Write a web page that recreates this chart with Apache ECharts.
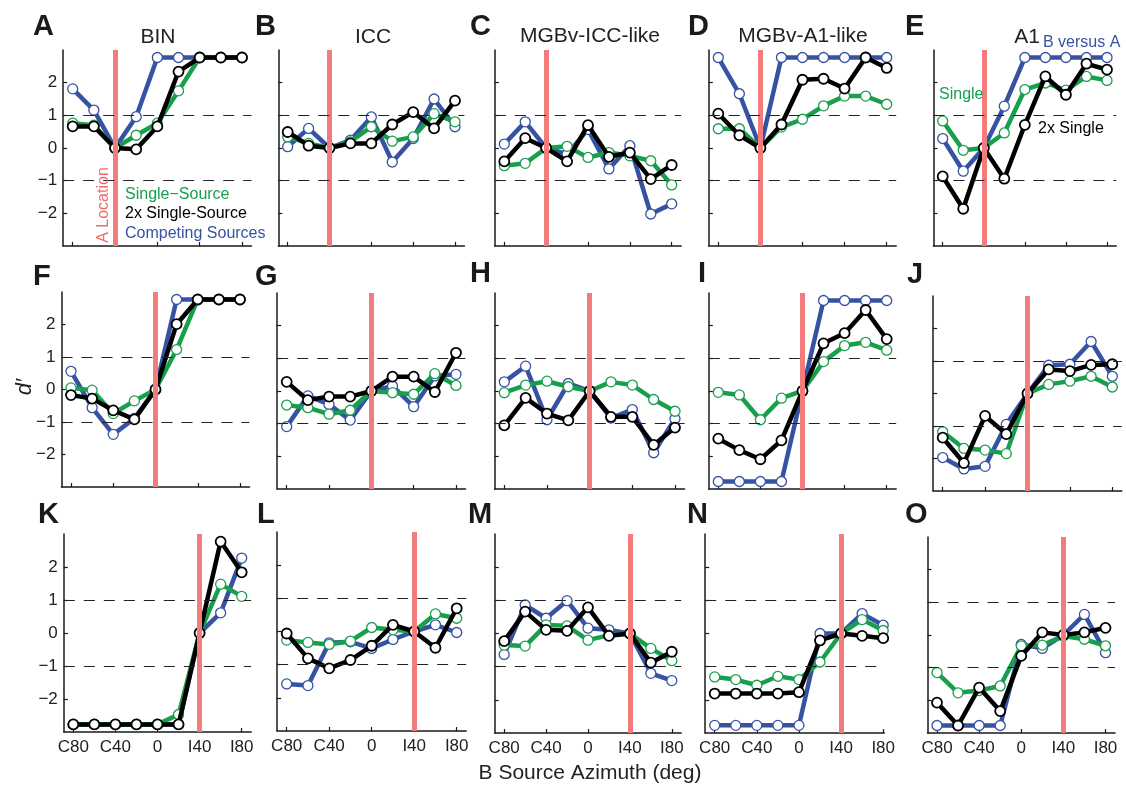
<!DOCTYPE html>
<html><head><meta charset="utf-8">
<script src="https://cdn.jsdelivr.net/npm/echarts@6/dist/echarts.min.js"></script>
<style>html,body{margin:0;padding:0;background:#fff}#c{width:1126px;height:788px}</style>
</head><body><div id="c"></div>
<script>
// ---------- data ----------
const azimuths = [-80, -60, -40, -20, 0, 20, 40, 60, 80];
const tickValues = [-80, -40, 0, 40, 80];
const tickLabels = ['C80', 'C40', '0', 'I40', 'I80'];
const yTickValues = [-2, -1, 0, 1, 2];
const yTickLabels = ['\u22122', '\u22121', '0', '1', '2'];
const panelLetters = ['A','B','C','D','E','F','G','H','I','J','K','L','M','N','O'];
const columnTitles = ['BIN', 'ICC', 'MGBv-ICC-like', 'MGBv-A1-like', 'A1'];
const aLocationByRow = [-40, 0, 40];
const criterionLevels = [1, -1];

// Single-Source (green), 2x Single-Source (black), Competing Sources (blue)
const A_single  = [0.76, 0.70, 0, 0.39, 0.76, 1.75, 2.77, 2.77, 2.77];
const A_double  = [0.66, 0.66, 0, -0.04, 0.66, 2.34, 2.77, 2.77, 2.77];
const A_compete = [1.81, 1.16, 0, 0.96, 2.77, 2.77, 2.77, 2.77, 2.77];

const B_single  = [0.34, 0.14, 0, 0.19, 0.65, 0.21, 0.34, 1.05, 0.80];
const B_double  = [0.49, 0.07, 0, 0.14, 0.14, 0.72, 1.10, 0.60, 1.45];
const B_compete = [0.04, 0.60, 0, 0.24, 0.95, -0.43, 0.29, 1.50, 0.65];

const C_single  = [-0.54, -0.47, 0, 0.05, -0.29, -0.14, -0.24, -0.39, -1.13];
const C_double  = [-0.41, 0.30, 0, -0.41, 0.70, -0.27, -0.14, -0.95, -0.52];
const C_compete = [0.12, 0.80, 0, -0.19, 0.57, -0.64, 0.07, -2.02, -1.71];

const D_single  = [0.59, 0.59, 0, 0.64, 0.88, 1.29, 1.59, 1.59, 1.34];
const D_double  = [1.05, 0.39, 0, 0.72, 2.09, 2.12, 1.82, 2.77, 2.45];
const D_compete = [2.77, 1.66, 0, 2.77, 2.77, 2.77, 2.77, 2.77, 2.77];

const E_single  = [0.83, -0.07, 0, 0.46, 1.79, 1.99, 1.77, 2.19, 2.07];
const E_double  = [-0.87, -1.86, 0, -0.94, 0.71, 2.19, 1.63, 2.58, 2.40];
const E_compete = [0.29, -0.71, 0, 1.28, 2.77, 2.77, 2.77, 2.77, 2.77];

const F_single  = [0.05, -0.02, -0.74, -0.35, 0, 1.23, 2.77, 2.77, 2.77];
const F_double  = [-0.17, -0.28, -0.64, -0.92, 0, 2.01, 2.77, 2.77, 2.77];
const F_compete = [0.56, -0.56, -1.38, -0.89, 0, 2.77, 2.77, 2.77, 2.77];

const G_single  = [-0.43, -0.51, -0.71, -0.59, 0, -0.05, -0.10, 0.53, 0.17];
const G_double  = [0.28, -0.28, -0.17, -0.17, 0, 0.44, 0.44, -0.03, 1.17];
const G_compete = [-1.09, -0.15, -0.41, -0.89, 0, 0.15, -0.48, 0.46, 0.51];

const H_single  = [-0.05, 0.18, 0.30, 0.13, 0, 0.28, 0.18, -0.26, -0.62];
const H_double  = [-1.05, -0.21, -0.69, -0.90, 0, -0.79, -0.79, -1.65, -1.12];
const H_compete = [0.28, 0.76, -0.88, 0.23, 0, -0.83, -0.57, -1.89, -0.85];

const I_single  = [-0.04, -0.12, -0.88, -0.22, 0, 0.90, 1.39, 1.49, 1.25];
const I_double  = [-1.46, -1.81, -2.09, -1.51, 0, 1.46, 1.77, 2.48, 1.59];
const I_compete = [-2.77, -2.77, -2.77, -2.77, 0, 2.77, 2.77, 2.77, 2.77];

const J_single  = [-1.18, -1.69, -1.74, -1.85, 0, 0.28, 0.38, 0.53, 0.20];
const J_double  = [-1.36, -2.14, -0.69, -1.25, 0, 0.74, 0.69, 0.88, 0.90];
const J_compete = [-1.97, -2.32, -2.24, -0.95, 0, 0.87, 0.90, 1.60, 0.53];

const K_single  = [-2.77, -2.77, -2.77, -2.77, -2.77, -2.47, 0, 1.48, 1.11];
const K_double  = [-2.77, -2.77, -2.77, -2.77, -2.77, -2.77, 0, 2.77, 1.84];
const K_compete = [-2.77, -2.77, -2.77, -2.77, -2.77, -2.77, 0, 0.61, 2.27];

const L_single  = [-0.26, -0.33, -0.39, -0.29, 0.12, 0.05, 0, 0.53, 0.40];
const L_double  = [-0.06, -0.81, -1.11, -0.86, -0.43, 0.20, 0, -0.49, 0.70];
const L_compete = [-1.58, -1.63, -0.34, -0.31, -0.51, -0.24, 0, 0.20, -0.03];

const M_single  = [-0.35, -0.38, 0.26, 0.23, -0.20, -0.05, 0, -0.45, -0.82];
const M_double  = [-0.23, 0.66, 0.11, 0.08, 0.79, -0.07, 0, -0.88, -0.55];
const M_compete = [-0.63, 0.86, 0.46, 0.99, 0.16, 0.11, 0, -1.20, -1.42];

const N_single  = [-1.31, -1.39, -1.56, -1.29, -1.39, -0.86, 0, 0.42, 0.09];
const N_double  = [-1.81, -1.81, -1.81, -1.81, -1.77, -0.21, 0, -0.07, -0.14];
const N_compete = [-2.77, -2.77, -2.77, -2.77, -2.77, 0, 0, 0.60, 0.25];

const O_single  = [-1.15, -1.77, -1.70, -1.56, -0.33, -0.31, -0.03, -0.13, -0.33];
const O_double  = [-2.07, -2.77, -1.61, -2.33, -0.64, 0.08, 0, 0.08, 0.22];
const O_compete = [-2.77, -2.77, -2.77, -2.77, -0.29, -0.41, 0, 0.63, -0.54];

const singleData  = [A_single, B_single, C_single, D_single, E_single, F_single, G_single, H_single, I_single, J_single, K_single, L_single, M_single, N_single, O_single];
const doubleData  = [A_double, B_double, C_double, D_double, E_double, F_double, G_double, H_double, I_double, J_double, K_double, L_double, M_double, N_double, O_double];
const competeData = [A_compete, B_compete, C_compete, D_compete, E_compete, F_compete, G_compete, H_compete, I_compete, J_compete, K_compete, L_compete, M_compete, N_compete, O_compete];

// ---------- layout (pixel positions of C80 / I80 ticks, plot top & height) ----------
const layout = [
  {c80: 72.7, i80: 242,   top: 50,  h: 196},
  {c80: 287.7, i80: 455,  top: 50,  h: 196},
  {c80: 504.3, i80: 671.7, top: 50, h: 196},
  {c80: 718.3, i80: 886.7, top: 50, h: 196},
  {c80: 942.7, i80: 1107, top: 50,  h: 196},
  {c80: 71,   i80: 240,   top: 292, h: 195},
  {c80: 286.7, i80: 456,  top: 293, h: 196},
  {c80: 504.3, i80: 675,  top: 293, h: 196},
  {c80: 718.3, i80: 886.7, top: 293, h: 196},
  {c80: 942.7, i80: 1112.3, top: 296, h: 195},
  {c80: 73.3, i80: 241.7, top: 534, h: 198},
  {c80: 286.7, i80: 456.7, top: 532, h: 199},
  {c80: 504.2, i80: 671.8, top: 534, h: 199},
  {c80: 714.7, i80: 883.2, top: 534, h: 199, xmax: 81},
  {c80: 937,  i80: 1105.5, top: 537, h: 196}
];

const FONT = '"Liberation Sans", Arial, Helvetica, sans-serif';
const BLUE = '#3652a3', GREEN = '#189f4c', BLACK = '#000000', RED = '#f27c7c', AXIS = '#1a1a1a';
const XMIN = -89, XMAX = 89;

const grids = [], xAxes = [], yAxes = [], series = [];
layout.forEach((L, i) => {
  const row = Math.floor(i / 5), col = i % 5;
  const xmax = L.xmax != null ? L.xmax : XMAX;
  const k = (L.i80 - L.c80) / 160;
  grids.push({left: L.c80 - (-80 - XMIN) * k, top: L.top, width: (xmax - XMIN) * k, height: L.h});
  xAxes.push({
    gridIndex: i, type: 'value', min: XMIN, max: xmax,
    axisLine: {show: true, onZero: false, lineStyle: {color: AXIS, width: 1.5}},
    axisTick: {show: true, inside: true, length: 4, customValues: tickValues, lineStyle: {color: AXIS, width: 1.2}},
    axisLabel: {show: row === 2, customValues: tickValues, margin: 7, fontSize: 17, color: '#222', fontFamily: FONT,
      formatter: v => tickLabels[tickValues.indexOf(v)]},
    splitLine: {show: false}
  });
  yAxes.push({
    gridIndex: i, type: 'value', min: -3, max: 3,
    axisLine: {show: true, onZero: false, lineStyle: {color: AXIS, width: 1.5}},
    axisTick: {show: true, inside: true, length: 4, customValues: yTickValues, lineStyle: {color: AXIS, width: 1.2}},
    axisLabel: {show: col === 0, customValues: yTickValues, margin: 6, fontSize: 17, color: '#222', fontFamily: FONT,
      formatter: v => yTickLabels[yTickValues.indexOf(v)]},
    splitLine: {show: false}
  });
  // reference lines: A location and +/-1 criterion
  series.push({
    type: 'line', xAxisIndex: i, yAxisIndex: i, data: [], z: 1, silent: true, animation: false,
    markLine: {
      silent: true, animation: false, symbol: ['none', 'none'], label: {show: false},
      emphasis: {disabled: true},
      data: [{xAxis: aLocationByRow[row], lineStyle: {color: RED, width: 5, type: 'solid'}}]
        .concat(criterionLevels.map(v => ({yAxis: v, lineStyle: {color: '#222', width: 1.2, type: [11, 9]}})))
    }
  });
  const mk = (arr, color, z, bw) => ({
    type: 'line', xAxisIndex: i, yAxisIndex: i, z: z, silent: true, animation: false,
    data: azimuths.map((a, j) => [a, arr[j]]),
    symbol: 'circle', symbolSize: 10, showSymbol: true, clip: false,
    lineStyle: {color: color, width: 4.5},
    itemStyle: {color: '#ffffff', borderColor: color, borderWidth: bw},
    emphasis: {disabled: true}
  });
  series.push(mk(competeData[i], BLUE, 2, 1.3));
  series.push(mk(singleData[i], GREEN, 3, 1.3));
  series.push(mk(doubleData[i], BLACK, 4, 1.8));
});

// ---------- text ----------
const letterPos = [[33,27],[255,27],[470,27],[688,27],[905,27],[33,277],[255,277],[470,274],[698,274],[907,275],[38,515],[257,515],[468,515],[687,515],[905,515]];
const titlePos = [[158,37],[373,37],[590,36],[803,36],[1027,37]];
const txt = (text, x, y, opt) => ({
  type: 'text', x: x, y: y, rotation: opt.rotation || 0, silent: true, z: 100,
  style: Object.assign({text: text, fontFamily: FONT, fontSize: 16, fill: '#111',
    align: 'left', textAlign: 'left', verticalAlign: 'middle', textVerticalAlign: 'middle'}, opt.style || {})
});
const graphics = [];
panelLetters.forEach((p, i) => graphics.push(txt(p, letterPos[i][0], letterPos[i][1], {style: {fontSize: 29, fontWeight: 'bold', fill: '#1a1a1a'}})));
columnTitles.forEach((t, i) => graphics.push(txt(t, titlePos[i][0], titlePos[i][1], {style: {fontSize: 21, fill: '#222', align: 'center', textAlign: 'center'}})));
graphics.push(txt('Single\u2212Source', 125, 195, {style: {fill: GREEN}}));
graphics.push(txt('2x Single-Source', 125, 214, {style: {fill: '#000'}}));
graphics.push(txt('Competing Sources', 125, 234, {style: {fill: BLUE}}));
graphics.push(txt('A Location', 104, 205, {rotation: Math.PI / 2, style: {fill: '#f26a6a', align: 'center', textAlign: 'center'}}));
graphics.push(txt('Single', 939, 95, {style: {fill: GREEN}}));
graphics.push(txt('2x Single', 1038, 129, {style: {fill: '#000'}}));
graphics.push(txt('B versus A', 1043, 43, {style: {fill: BLUE}}));
graphics.push(txt('d\u2032', 25, 387, {rotation: Math.PI / 2, style: {fontSize: 22, fontStyle: 'italic', fill: '#222', align: 'center', textAlign: 'center'}}));
graphics.push(txt('B Source Azimuth (deg)', 590, 773, {style: {fontSize: 21, fill: '#222', align: 'center', textAlign: 'center'}}));

const chart = echarts.init(document.getElementById('c'), null, {renderer: 'canvas'});
chart.setOption({
  animation: false,
  backgroundColor: '#ffffff',
  grid: grids, xAxis: xAxes, yAxis: yAxes, series: series, graphic: graphics
});
</script></body></html>
